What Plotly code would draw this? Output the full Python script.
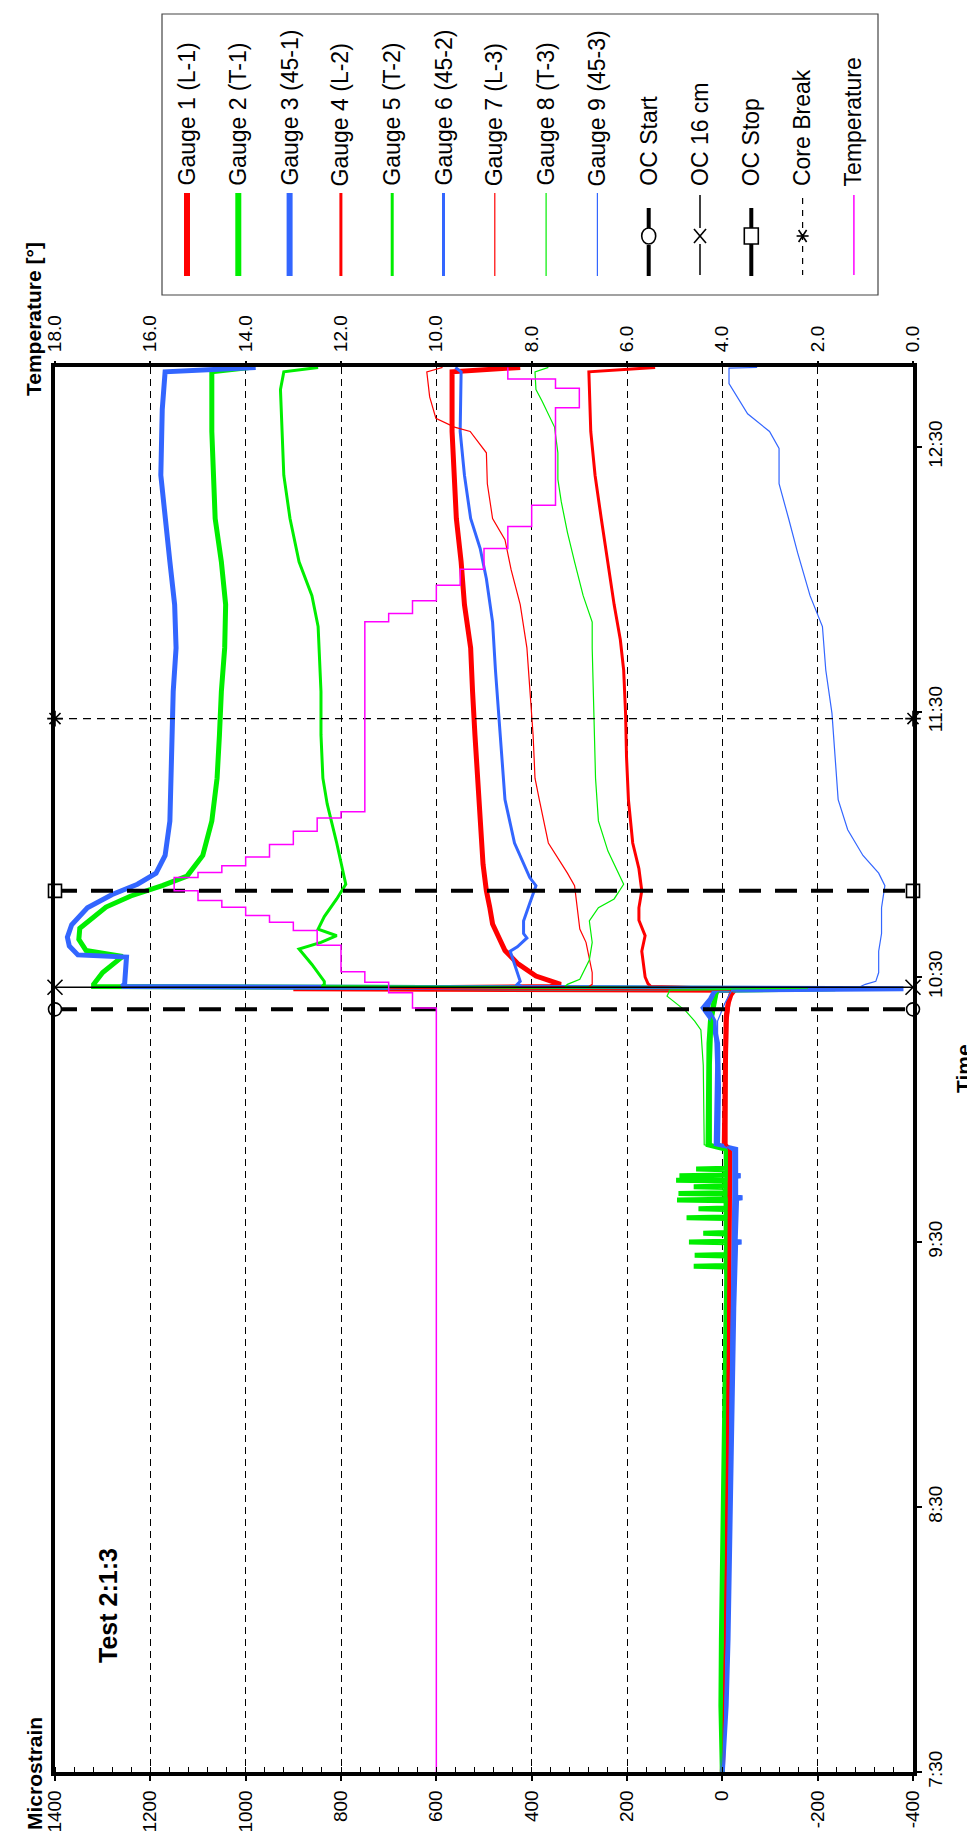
import plotly.graph_objects as go

# ---------------- data ----------------
UE_TICKS = [1400, 1200, 1000, 800, 600, 400, 200, 0, -200, -400]
TEMP_TICKS = [18.0, 16.0, 14.0, 12.0, 10.0, 8.0, 6.0, 4.0, 2.0, 0.0]
TIME_TICKS = ["7:30", "8:30", "9:30", "10:30", "11:30", "12:30"]
TIME_END = "12:48:06"

G1 = [("7:30", 0), ("7:45", -5), ("8:00", -8), ("8:20", -10), ("8:40", -12), ("9:00", -13), ("9:20", -14),
      ("9:40", -15), ("9:51", -16), ("9:52", -4), ("10:05", -5), ("10:15", -6), ("10:21", -8), ("10:24", -12),
      ("10:26", -18), ("10:27:00", -25), ("10:27:20", 900), ("10:27:50", 360), ("10:28:20", 339),
      ("10:30:12", 391), ("10:33:06", 430), ("10:36:00", 456), ("10:42:00", 482), ("10:45:48", 488),
      ("10:49:30", 495), ("10:55:30", 502), ("11:05:18", 508), ("11:15:00", 515), ("11:24:48", 519),
      ("11:34:36", 524), ("11:44:30", 528), ("11:54:18", 541), ("12:04:00", 548), ("12:13:48", 558),
      ("12:23:36", 563), ("12:33:30", 567), ("12:47:00", 567), ("12:48:00", 424)]

G2 = [("7:30", 0), ("7:45", 3), ("8:00", 2), ("8:20", 0), ("8:40", -3), ("9:00", -5), ("9:15", -8), ("9:22", -10),
      ("9:24:20", -8), ("9:24:30", 60), ("9:24:40", -8), ("9:26:50", -8), ("9:27:00", 58), ("9:27:10", -8),
      ("9:29:50", -9), ("9:30:00", 70), ("9:30:10", -9), ("9:31:50", -8), ("9:32:00", 40), ("9:32:10", -8),
      ("9:35:20", -8), ("9:35:30", 75), ("9:35:40", -8), ("9:37:20", -8), ("9:37:30", 50), ("9:37:40", -8),
      ("9:39:20", -8), ("9:39:30", 95), ("9:39:40", -6), ("9:40:50", -6), ("9:41:00", 92), ("9:41:10", -6),
      ("9:42:20", -6), ("9:42:30", 60), ("9:42:40", -6), ("9:43:50", -6), ("9:44:00", 97), ("9:44:10", -6),
      ("9:44:50", -6), ("9:45:00", 90), ("9:45:10", -6), ("9:46:20", -6), ("9:46:30", 55), ("9:46:40", -8),
      ("9:51", -8), ("9:52", 30), ("10:05", 30), ("10:15", 28), ("10:20", 25),
      ("10:23", 20), ("10:26", 15), ("10:27:00", 10), ("10:27:20", -237), ("10:27:50", 1319), ("10:28:20", 1319),
      ("10:31:00", 1300), ("10:34:40", 1258), ("10:36:00", 1335), ("10:38:30", 1350), ("10:41:00", 1348),
      ("10:42:30", 1332), ("10:45:50", 1293), ("10:48:20", 1241), ("10:50:40", 1175), ("10:52:50", 1123),
      ("10:57:30", 1090), ("11:05:18", 1071), ("11:15:00", 1060), ("11:24:48", 1055), ("11:34:36", 1051),
      ("11:44:30", 1044), ("11:54:18", 1042), ("12:04:00", 1051), ("12:13:48", 1064), ("12:33:30", 1071),
      ("12:47:00", 1071), ("12:48:00", 992)]

G3 = [("7:30", 0), ("7:45", -8), ("8:00", -12), ("8:20", -15), ("8:40", -18), ("9:00", -20), ("9:15", -24),
      ("9:29:50", -28), ("9:30:00", -40), ("9:30:10", -27), ("9:39:50", -30), ("9:40:00", -42), ("9:40:10", -28),
      ("9:44:50", -28), ("9:45:00", -38), ("9:45:10", -28),
      ("9:51", -28), ("9:52", 10), ("10:05", 8), ("10:15", 10), ("10:20", 20), ("10:23", 40),
      ("10:25", 25), ("10:27:00", 15), ("10:27:20", -380), ("10:27:50", 1260), ("10:28:20", 1254),
      ("10:34:30", 1250), ("10:35:00", 1352), ("10:37:00", 1370), ("10:39:00", 1374), ("10:41:50", 1365),
      ("10:45:40", 1332), ("10:48:40", 1280), ("10:51:00", 1227), ("10:53:30", 1188), ("10:57:30", 1169),
      ("11:05:18", 1159), ("11:15:00", 1156), ("11:24:48", 1153), ("11:34:36", 1152), ("11:44:30", 1146),
      ("11:54:18", 1149), ("12:04:00", 1159), ("12:13:48", 1169), ("12:23:36", 1178), ("12:38:30", 1175),
      ("12:47:00", 1169), ("12:48:00", 979)]

G4 = [("7:30", 0), ("7:45", -4), ("8:00", -6), ("8:20", -9), ("8:40", -11), ("9:00", -12), ("9:20", -14),
      ("9:40", -15), ("9:51", -15), ("9:52", -8), ("10:10", -8), ("10:20", -10), ("10:25", -15), ("10:27:00", -20),
      ("10:27:20", -40), ("10:27:50", 150), ("10:28:30", 156), ("10:30:00", 162), ("10:35:50", 169),
      ("10:39:20", 162), ("10:42:50", 175), ("10:45:40", 175), ("10:49:30", 169), ("10:54:30", 175),
      ("11:00:20", 188), ("11:10:10", 197), ("11:19:50", 201), ("11:29:40", 203), ("11:39:30", 207),
      ("11:46:20", 214), ("11:54:18", 227), ("12:04:00", 241), ("12:13:48", 254), ("12:23:36", 267),
      ("12:33:30", 276), ("12:47:00", 280), ("12:48:00", 141)]

G5 = [("7:30", 0), ("7:45", 2), ("8:00", 0), ("8:20", -2), ("8:40", -4), ("9:00", -6), ("9:20", -8),
      ("9:26:50", -8), ("9:27:00", 40), ("9:27:10", -8), ("9:35:20", -7), ("9:35:30", 50), ("9:35:40", -7),
      ("9:40:50", -6), ("9:41:00", 55), ("9:41:10", -6), ("9:43:50", -7), ("9:44:00", 45), ("9:44:10", -8),
      ("9:51", -8), ("9:52", 25), ("10:10", 25), ("10:20", 22), ("10:24", 15), ("10:27:00", 10), ("10:27:20", -150),
      ("10:27:50", 840), ("10:28:20", 835), ("10:29:00", 835), ("10:32:50", 861), ("10:36:20", 888),
      ("10:37:50", 842), ("10:39:20", 809), ("10:40:50", 848), ("10:43:40", 835), ("10:47:40", 809),
      ("10:51:00", 790), ("11:00:20", 809), ("11:09:10", 829), ("11:15:00", 838), ("11:24:48", 842),
      ("11:34:36", 842), ("11:49:20", 848), ("11:56:20", 861), ("12:04:00", 888), ("12:13:48", 907),
      ("12:23:36", 920), ("12:43:00", 927), ("12:47:00", 920), ("12:48:00", 848)]

G6 = [("7:30", 0), ("7:45", -6), ("8:00", -10), ("8:20", -13), ("8:40", -16), ("9:00", -18), ("9:20", -22),
      ("9:40", -25), ("9:51", -25), ("9:52", 15), ("10:10", 12), ("10:20", 15), ("10:23", 30), ("10:26", 20),
      ("10:27:00", 10), ("10:27:20", -300), ("10:27:50", 420), ("10:28:20", 430), ("10:29:00", 424),
      ("10:32:50", 436), ("10:35:50", 445), ("10:36:50", 430), ("10:38:50", 410), ("10:39:50", 417),
      ("10:42:40", 417), ("10:46:40", 404), ("10:50:40", 391), ("10:52:30", 404), ("11:00:20", 436),
      ("11:10:10", 456), ("11:19:50", 463), ("11:29:40", 469), ("11:39:30", 476), ("11:50:20", 482),
      ("12:00:10", 495), ("12:07:00", 508), ("12:13:48", 528), ("12:23:36", 541), ("12:33:30", 550),
      ("12:47:00", 548), ("12:48:00", 560)]

G7 = [("7:30", 0), ("7:45", -3), ("8:00", -5), ("8:20", -7), ("8:40", -9), ("9:00", -10), ("9:20", -12),
      ("9:40", -13), ("9:51", -13), ("9:52", -5), ("10:10", -5), ("10:20", -8), ("10:25", -12), ("10:27:00", -18),
      ("10:27:20", 700), ("10:27:50", 280), ("10:28:20", 273), ("10:31:00", 273), ("10:33:50", 279),
      ("10:37:50", 286), ("10:40:50", 299), ("10:45:40", 305), ("10:50:40", 310), ("10:53:30", 325),
      ("11:00:20", 365), ("11:10:10", 384), ("11:15:00", 393), ("11:24:48", 397), ("11:34:36", 404),
      ("11:44:30", 410), ("11:54:18", 424), ("12:02:10", 443), ("12:09:00", 456), ("12:13:48", 482),
      ("12:21:40", 493), ("12:28:40", 495), ("12:33:30", 529), ("12:34:30", 562), ("12:36:30", 601),
      ("12:41:20", 614), ("12:47:00", 620), ("12:48:00", 587)]

G8 = [("7:30", 0), ("7:45", 2), ("8:00", 1), ("8:20", -1), ("8:40", -2), ("9:00", -4), ("9:20", -6), ("9:40", -8),
      ("9:51", -8), ("9:52", 38), ("10:10", 40), ("10:18", 45), ("10:20", 58), ("10:22:20", 77), ("10:25:40", 116),
      ("10:27:00", 110), ("10:27:20", -180), ("10:27:50", 330), ("10:28:20", 325), ("10:29:30", 299),
      ("10:33:50", 279), ("10:37:50", 273), ("10:42:40", 279), ("10:45:40", 260), ("10:47:40", 227),
      ("10:51:00", 207), ("10:58:30", 240), ("11:05:20", 260), ("11:15:00", 266), ("11:29:40", 270),
      ("11:44:30", 273), ("11:50:20", 273), ("11:56:20", 292), ("12:04:00", 310), ("12:10:40", 325),
      ("12:17:40", 338), ("12:22:40", 345), ("12:28:40", 345), ("12:34:30", 352), ("12:40:20", 378),
      ("12:43:00", 391), ("12:47:00", 393), ("12:48:00", 365)]

G9 = [("7:30", 0), ("7:45", -6), ("8:00", -10), ("8:20", -13), ("8:40", -15), ("9:00", -17), ("9:20", -20),
      ("9:40", -22), ("9:51", -22), ("9:52", 12), ("10:10", 10), ("10:20", 10), ("10:24", -5), ("10:27:00", -20),
      ("10:27:20", -360), ("10:27:50", -290), ("10:28:20", -300), ("10:29:00", -322), ("10:31:00", -328),
      ("10:35:50", -328), ("10:39:50", -334), ("10:45:40", -334), ("10:50:40", -341), ("10:53:30", -328),
      ("10:57:30", -295), ("11:03:20", -263), ("11:10:10", -243), ("11:19:50", -237), ("11:29:40", -230),
      ("11:39:30", -217), ("11:49:20", -210), ("11:56:20", -184), ("12:06:00", -158), ("12:13:48", -139),
      ("12:21:40", -119), ("12:29:40", -119), ("12:33:30", -99), ("12:37:30", -53), ("12:44:20", -14),
      ("12:47:50", -14), ("12:48:00", -73)]

TEMPERATURE = [("7:30", 10.0), ("10:23:00", 10.5), ("10:26:24", 11.0), ("10:28:48", 11.5), ("10:31:12", 12.0),
               ("10:37:12", 12.5), ("10:40:30", 13.0), ("10:42:24", 13.5), ("10:43:54", 14.0), ("10:45:48", 14.5),
               ("10:47:18", 15.0), ("10:49:30", 15.5), ("10:52:30", 15.0), ("10:53:40", 14.5), ("10:55:10", 14.0),
               ("10:57:10", 13.5), ("11:00:00", 13.0), ("11:03:00", 12.5), ("11:06:00", 12.0), ("11:07:24", 11.5),
               ("11:50:24", 11.0), ("11:52:18", 10.5), ("11:55:12", 10.0), ("11:58:42", 9.5), ("12:02:18", 9.0),
               ("12:07:00", 8.5), ("12:12:00", 8.0), ("12:16:48", 7.5), ("12:38:54", 7.0), ("12:43:18", 7.5),
               ("12:45:24", 8.5), ("12:48:00", 8.5)]

EVENT_NAMES = ["OC Start", "OC 16 cm", "OC Stop", "Core Break"]
EVENT_TIMES = ["10:22:40", "10:27:40", "10:49:30", "11:28:30"]

GAUGE_NAMES = ["Gauge 1 (L-1)", "Gauge 2 (T-1)", "Gauge 3 (45-1)", "Gauge 4 (L-2)", "Gauge 5 (T-2)",
               "Gauge 6 (45-2)", "Gauge 7 (L-3)", "Gauge 8 (T-3)", "Gauge 9 (45-3)"]

# ---------------- styles / geometry ----------------
W, H = 975, 1834
PL, PR, PT, PB = 47, 905, 359, 1764
RED, GREEN, BLUE, MAG = "#ff0000", "#00ee00", "#3366ff", "#ff00ff"
G_COLORS = [RED, GREEN, BLUE] * 3
G_WIDTHS = [5, 5, 5, 3, 3, 3, 1.2, 1.2, 1.2]
FONT = "Liberation Sans, Arial, sans-serif"


def hrs(s):
    p = s.split(":")
    return int(p[0]) + int(p[1]) / 60 + (int(p[2]) if len(p) > 2 else 0) / 3600


def px(x):
    return x / W


def py(y):
    return 1 - y / H


fig = go.Figure()

for name, pts, col, wd in zip(GAUGE_NAMES, [G1, G2, G3, G4, G5, G6, G7, G8, G9], G_COLORS, G_WIDTHS):
    fig.add_trace(go.Scatter(x=[v for _, v in pts], y=[hrs(t) for t, _ in pts], mode="lines", name=name,
                             line=dict(color=col, width=wd), xaxis="x", yaxis="y"))

fig.add_trace(go.Scatter(x=[v for _, v in TEMPERATURE], y=[hrs(t) for t, _ in TEMPERATURE], mode="lines",
                         name="Temperature", line=dict(color=MAG, width=1.5, shape="vh"), xaxis="x2", yaxis="y"))

EV_STYLE = {
    "OC Start": dict(line=dict(color="black", width=4, dash="22px,14px"), symbol="circle", size=13),
    "OC 16 cm": dict(line=dict(color="black", width=1.5), symbol="x-thin", size=15),
    "OC Stop": dict(line=dict(color="black", width=4, dash="22px,14px"), symbol="square", size=13),
    "Core Break": dict(line=dict(color="black", width=1.2, dash="8px,6px"), symbol="asterisk", size=13),
}
for nm, t in zip(EVENT_NAMES, EVENT_TIMES):
    st = EV_STYLE[nm]
    fig.add_trace(go.Scatter(x=[UE_TICKS[0], UE_TICKS[-1]], y=[hrs(t), hrs(t)], mode="lines+markers", name=nm,
                             line=st["line"], cliponaxis=False,
                             marker=dict(symbol=st["symbol"], size=st["size"], color="white",
                                         line=dict(color="black", width=1.6)),
                             xaxis="x", yaxis="y"))

tickfont = dict(family=FONT, size=19, color="black")
fig.update_layout(
    width=W, height=H, autosize=False, margin=dict(l=0, r=0, t=0, b=0),
    paper_bgcolor="white", plot_bgcolor="white", showlegend=False,
    xaxis=dict(domain=[px(PL), px(PR)], range=[UE_TICKS[0], UE_TICKS[-1]], tickmode="array",
               tickvals=UE_TICKS, ticktext=[str(v) for v in UE_TICKS], tickangle=-90, ticks="outside",
               ticklen=5, tickwidth=1.5, tickcolor="black", tickfont=tickfont, ticklabelstandoff=2,
               showgrid=True, gridcolor="black", gridwidth=1, griddash="7px,5px", zeroline=False,
               showline=True, linecolor="black", linewidth=3.5, mirror=True, anchor="y", automargin=False,
               minor=dict(tickmode="linear", tick0=0, dtick=40, ticks="inside", ticklen=5,
                          tickcolor="black", tickwidth=1, showgrid=False)),
    xaxis2=dict(overlaying="x", side="top", anchor="y", range=[TEMP_TICKS[0], TEMP_TICKS[-1]], tickmode="array",
                tickvals=TEMP_TICKS, ticktext=[f"{v:.1f}" for v in TEMP_TICKS], tickangle=-90, ticks="outside",
                ticklen=5, tickwidth=1.5, tickcolor="black", tickfont=tickfont, ticklabelstandoff=5,
                showgrid=False, zeroline=False, showline=False, automargin=False),
    yaxis=dict(domain=[py(PB), py(PT)], range=[hrs(TIME_TICKS[0]), hrs(TIME_END)], side="right",
               tickmode="array", tickvals=[hrs(t) for t in TIME_TICKS], ticktext=TIME_TICKS, tickangle=-90,
               ticks="outside", ticklen=5, tickwidth=1.5, tickcolor="black", tickfont=tickfont,
               ticklabelstandoff=-3, showgrid=False, zeroline=False, showline=True, linecolor="black",
               linewidth=3.5, mirror=True, anchor="x", automargin=False),
)

# ---------------- titles ----------------
ann = []
title_font = dict(family=FONT, size=21, color="black", weight="bold")
ann.append(dict(text="Microstrain", x=px(26), y=py(1766), textangle=-90, font=title_font))
ann.append(dict(text="Temperature [°]", x=px(25), y=py(311), textangle=-90, font=title_font))
ann.append(dict(text="Time", x=px(955), y=py(1061), textangle=-90, font=title_font))
ann.append(dict(text="Test 2:1:3", x=px(100), y=py(1598), textangle=-90,
                font=dict(family=FONT, size=25, color="black", weight="bold")))

# ---------------- legend (drawn manually, rotated) ----------------
shapes = []
LEG_L, LEG_R, LEG_T, LEG_B = 154, 870, 6, 287
shapes.append(dict(type="rect", xref="paper", yref="paper", x0=px(LEG_L), x1=px(LEG_R), y0=py(LEG_B), y1=py(LEG_T),
                   line=dict(color="#444444", width=1.2), fillcolor="white", layer="above"))
labels = GAUGE_NAMES + EVENT_NAMES + ["Temperature"]
X0, DX = 179, 51.3
MY = 228


def seg(x, y0, y1, color, width, dash="solid"):
    shapes.append(dict(type="line", xref="paper", yref="paper", x0=px(x), x1=px(x), y0=py(y0), y1=py(y1),
                       line=dict(color=color, width=width, dash=dash), layer="above"))


def pline(xa, ya, xb, yb, width=1.6):
    shapes.append(dict(type="line", xref="paper", yref="paper", x0=px(xa), x1=px(xb), y0=py(ya), y1=py(yb),
                       line=dict(color="black", width=width), layer="above"))


for i, lab in enumerate(labels):
    x = X0 + DX * i
    if i < 9:
        seg(x, 185, 268, G_COLORS[i], G_WIDTHS[i] + (1 if i < 3 else 0))
    elif lab == "Temperature":
        seg(x, 187, 267, MAG, 1.5)
    elif lab == "OC Start":
        seg(x, 200, 220, "black", 4)
        seg(x, 237, 268, "black", 4)
        shapes.append(dict(type="circle", xref="paper", yref="paper", x0=px(x - 7), x1=px(x + 7),
                           y0=py(MY + 8), y1=py(MY - 8), line=dict(color="black", width=1.6),
                           fillcolor="white", layer="above"))
    elif lab == "OC 16 cm":
        seg(x, 187, 220, "black", 1.5)
        seg(x, 236, 267, "black", 1.5)
        pline(x - 6, MY - 7, x + 6, MY + 7)
        pline(x - 6, MY + 7, x + 6, MY - 7)
    elif lab == "OC Stop":
        seg(x, 200, 220, "black", 4)
        seg(x, 236, 268, "black", 4)
        shapes.append(dict(type="rect", xref="paper", yref="paper", x0=px(x - 7), x1=px(x + 7),
                           y0=py(MY + 8), y1=py(MY - 8), line=dict(color="black", width=1.6),
                           fillcolor="white", layer="above"))
    elif lab == "Core Break":
        seg(x, 190, 267, "black", 1.2, dash="6px,6px")
        pline(x - 6, MY, x + 6, MY)
        pline(x - 4, MY - 6, x + 4, MY + 6)
        pline(x - 4, MY + 6, x + 4, MY - 6)
    ann.append(dict(text=lab, x=px(x), y=py(180), xanchor="center", yanchor="bottom", textangle=-90,
                    font=dict(family=FONT, size=23, color="black")))

for a in ann:
    a.setdefault("xref", "paper")
    a.setdefault("yref", "paper")
    a.setdefault("xanchor", "center")
    a.setdefault("yanchor", "middle")
    a.setdefault("showarrow", False)

fig.update_layout(annotations=ann, shapes=shapes)
fig.write_html("out.html")
